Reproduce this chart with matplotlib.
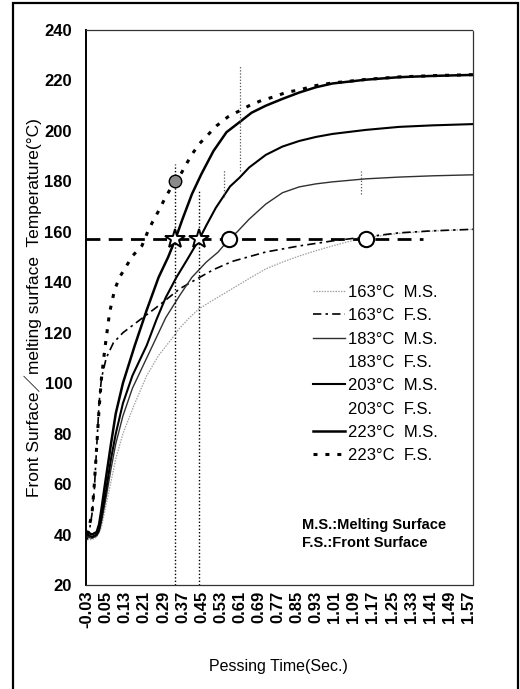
import matplotlib
matplotlib.use("Agg")
import matplotlib.pyplot as plt
from matplotlib.lines import Line2D

# ---------------- data ----------------
x_ticks = [-0.03, 0.05, 0.13, 0.21, 0.29, 0.37, 0.45, 0.53, 0.61, 0.69, 0.77,
           0.85, 0.93, 1.01, 1.09, 1.17, 1.25, 1.33, 1.41, 1.49, 1.57]
y_ticks = [20, 40, 60, 80, 100, 120, 140, 160, 180, 200, 220, 240]

ms163_x = [-0.03, -0.01, 0.01, 0.03, 0.05, 0.07, 0.09, 0.12, 0.17, 0.22, 0.27, 0.32, 0.36,
           0.40, 0.44, 0.50, 0.58, 0.65, 0.72, 0.79, 0.86, 0.93, 1.00, 1.07, 1.14, 1.28, 1.42, 1.59]
ms163_y = [38, 38, 39, 43, 52, 61, 70, 80, 92, 103, 111, 117, 122,
           126, 129.5, 133, 137.5, 141.5, 145.3, 148, 150.4, 152.5, 154.4, 156.2, 157.6, 159.4, 160.3, 161]

fs163_x = [-0.03, -0.02, -0.01, 0.00, 0.01, 0.02, 0.03, 0.05, 0.08, 0.12, 0.19, 0.26, 0.30,
           0.36, 0.43, 0.50, 0.58, 0.72, 0.86, 1.00, 1.14, 1.28, 1.42, 1.59]
fs163_y = [38, 42, 48, 58, 75, 92, 102, 110, 116, 120, 125, 130, 133,
           137.5, 141.3, 145, 148.3, 152, 154.4, 156.4, 158, 159.6, 160.4, 161]

ms183_x = [-0.03, -0.01, 0.01, 0.02, 0.03, 0.05, 0.07, 0.09, 0.12, 0.16, 0.22, 0.26, 0.30,
           0.36, 0.41, 0.47, 0.52, 0.565, 0.60, 0.65, 0.72, 0.79, 0.86, 0.93, 1.00, 1.14, 1.28, 1.42, 1.59]
ms183_y = [39, 38.5, 39.5, 41, 45, 55, 66, 76, 87, 98, 110, 118, 126,
           135, 142, 148, 152, 157, 160, 165, 171, 175.5, 177.8, 179, 179.8, 181, 181.7, 182.2, 182.6]

ms203_x = [-0.03, -0.01, 0.01, 0.02, 0.03, 0.05, 0.07, 0.09, 0.12, 0.16, 0.22, 0.26, 0.30,
           0.345, 0.39, 0.44, 0.47, 0.51, 0.57, 0.61, 0.65, 0.72, 0.79, 0.86, 0.93, 1.00, 1.14, 1.28, 1.42, 1.59]
ms203_y = [40, 39, 40, 42, 47, 58, 70, 80, 92, 103, 115, 125, 134,
           142, 149, 157, 162.5, 169.5, 178, 181.5, 185.5, 190.5, 193.8, 196, 197.6, 198.8, 200.4, 201.6, 202.2, 202.7]

ms223_x = [-0.03, -0.01, 0.01, 0.02, 0.03, 0.045, 0.07, 0.09, 0.12, 0.17, 0.22, 0.27, 0.31,
           0.34, 0.37, 0.41, 0.45, 0.50, 0.555, 0.61, 0.66, 0.72, 0.79, 0.86, 0.93, 1.00, 1.14, 1.28, 1.42, 1.59]
ms223_y = [41, 40, 41, 44, 50, 60, 76, 88, 100, 115, 129, 142, 150,
           157, 165, 175, 183, 192, 199.5, 203.5, 207.2, 210, 212.7, 215.2, 217.3, 218.8, 220.3, 221.3, 221.8, 222.2]

fs223_x = [-0.03, -0.01, 0.00, 0.01, 0.02, 0.03, 0.044, 0.064, 0.085, 0.106, 0.135, 0.16, 0.20,
           0.224, 0.245, 0.274, 0.295, 0.324, 0.358, 0.387, 0.412, 0.442, 0.513, 0.56, 0.61, 0.65,
           0.70, 0.75, 0.81, 0.86, 0.92, 0.97, 1.00, 1.14, 1.28, 1.42, 1.59]
fs223_y = [40, 48, 60, 75, 90, 102, 113.6, 128, 137, 142, 146.5, 150.4, 154.5,
           160, 164, 169, 173, 177.8, 182, 187, 191, 195, 202, 205.5, 208, 210,
           212, 213.4, 215.4, 216.2, 217.8, 218.6, 219, 220.4, 221.4, 221.9, 222.3]

melt_temp = 157
melt_line_x = [-0.035, 1.38]
star_x = [0.34, 0.44]
circle_x = [0.565, 1.14]
gray_pt_x = [0.34]
gray_pt_y = [180]
drop_x = [0.34, 0.44]
drop_top = [187, 176]
bar_x = [0.61, 0.543, 1.12]
bar_lo = [184, 174, 175]
bar_hi = [226, 185, 184]

legend_labels = ["163°C  M.S.", "163°C  F.S.", "183°C  M.S.", "183°C  F.S.",
                 "203°C  M.S.", "203°C  F.S.", "223°C  M.S.", "223°C  F.S."]

# ---------------- figure ----------------
W, H = 520, 689
fig = plt.figure(figsize=(W / 100, H / 100), dpi=100)
plt.rcParams['font.family'] = ['Liberation Sans', 'Noto Sans CJK JP', 'DejaVu Sans']

L, R, T, B = 86, 473, 30, 585
ax = fig.add_axes([L / W, 1 - B / H, (R - L) / W, (B - T) / H])

# outer frame
fig.patches.append(plt.Rectangle((13 / W, -0.05), (518 - 13) / W, 1 - 3 / H + 0.05,
                                 transform=fig.transFigure, fill=False,
                                 edgecolor='black', linewidth=1.6))

st163ms = dict(color='#a0a0a0', lw=0.9, linestyle=(0, (1.2, 1.0)))
st163fs = dict(color='black', lw=1.2, linestyle=(0, (5, 2.5, 1.5, 2.5)))
st183ms = dict(color='#303030', lw=1.0, linestyle='-')
st203ms = dict(color='black', lw=1.5, linestyle='-')
st223ms = dict(color='black', lw=1.8, linestyle='-')
st223fs = dict(color='black', lw=2.2, linestyle=(0, (1.3, 2.6)))

ax.plot(ms163_x, ms163_y, **st163ms)
ax.plot(fs163_x, fs163_y, **st163fs)
ax.plot(ms183_x, ms183_y, **st183ms)
ax.plot(ms203_x, ms203_y, **st203ms)
ax.plot(ms223_x, ms223_y, **st223ms)
ax.plot(fs223_x, fs223_y, **st223fs)

# drop lines and error bars
for xv, yt in zip(drop_x, drop_top):
    ax.plot([xv, xv], [20, yt], color='black', lw=1.0, linestyle=(0, (1, 1.5)))
for xv, lo, hi in zip(bar_x, bar_lo, bar_hi):
    ax.plot([xv, xv], [lo, hi], color='#555555', lw=0.9, linestyle=(0, (1, 1.5)))

# melting temperature line
ax.plot(melt_line_x, [melt_temp, melt_temp], color='black', lw=2.0,
        linestyle=(0, (5, 3)))

ax.plot(gray_pt_x, gray_pt_y, 'o', ms=9, mfc='#8a8a8a', mec='black', mew=1.0)
ax.plot(star_x, [melt_temp] * len(star_x), '*', ms=15, mfc='white', mec='black', mew=1.4)
ax.plot(circle_x, [melt_temp] * len(circle_x), 'o', ms=11, mfc='white', mec='black', mew=1.5)

ax.set_xlim(-0.035, 1.59)
ax.set_ylim(20, 240)
ax.set_xticks(x_ticks)
ax.set_xticklabels([f"{v:.2f}" for v in x_ticks], rotation=90, fontsize=12,
                   fontweight='bold')
ax.set_yticks(y_ticks)
ax.set_yticklabels([str(v) for v in y_ticks], fontsize=12, fontweight='bold')
ax.tick_params(axis='both', length=0)
ax.tick_params(axis='y', pad=10)
ax.tick_params(axis='x', pad=4)

ax.spines['left'].set_linewidth(1.4)
for s in ['top', 'right', 'bottom']:
    ax.spines[s].set_linestyle((0, (1, 1)))
    ax.spines[s].set_linewidth(0.9)
    ax.spines[s].set_color('#333333')

fig.text(33 / W, 1 - 308 / H, "Front Surface／melting surface  Temperature(°C)",
         rotation=90, ha='center', va='center', fontsize=12.5)
fig.text(278 / W, 1 - 667 / H, "Pessing Time(Sec.)", ha='center', va='center',
         fontsize=11.5)

none = dict(linestyle='none')
handles = [Line2D([], [], **st163ms), Line2D([], [], **st163fs),
           Line2D([], [], **st183ms), Line2D([], [], **none),
           Line2D([], [], **st203ms), Line2D([], [], **none),
           Line2D([], [], **st223ms), Line2D([], [], **st223fs)]
fig.legend(handles, legend_labels, loc='upper left',
           bbox_to_anchor=(313 / W, 1 - 285 / H), bbox_transform=fig.transFigure,
           frameon=False, fontsize=12, handlelength=1.9, handletextpad=0.2,
           labelspacing=0.5, borderpad=0, borderaxespad=0)

fig.text(302 / W, 1 - 525 / H, "M.S.:Melting Surface", ha='left', va='center',
         fontsize=10.5, fontweight='bold')
fig.text(302 / W, 1 - 543 / H, "F.S.:Front Surface", ha='left', va='center',
         fontsize=10.5, fontweight='bold')

fig.savefig("out.png", dpi=100)
